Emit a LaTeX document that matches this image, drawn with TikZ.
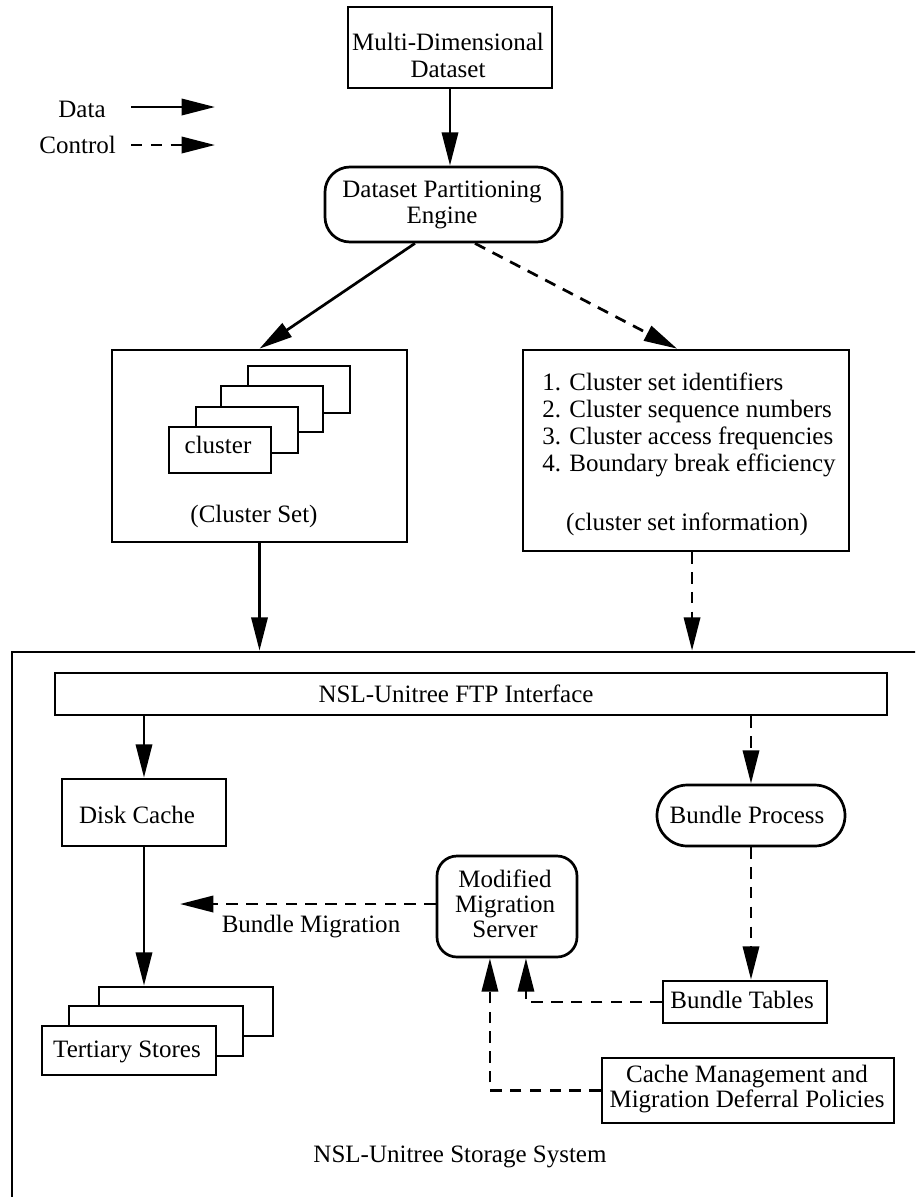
\documentclass[tikz,border=0pt]{standalone}
\usepackage{fontspec}
\setmainfont{Liberation Serif}
\usetikzlibrary{arrows.meta,fit,calc}
\begin{document}
\begin{tikzpicture}[x=0.48pt,y=-0.48pt,
  every node/.style={font=\fontsize{12}{13}\selectfont},
  box/.style={draw, line width=1.3pt, inner sep=0pt, fill=white},
  txt/.style={inner sep=0pt, anchor=base},
  data/.style={line width=1.3pt, -{Triangle[length=16pt,width=7.8pt]}},
  ctrl/.style={data, dash pattern=on 5.5pt off 4pt}]
\path[use as bounding box, clip] (0,0) rectangle (915,1197);

% legend
\node[txt, anchor=base west] (ldata) at (58,117) {Data};
\node[txt, anchor=base west] (lctrl) at (39,153) {Control};
\coordinate (lda) at (131,107); \coordinate (ldb) at (215,107);
\coordinate (lca) at (131,145); \coordinate (lcb) at (215,145);
\draw[data] (lda) -- (ldb);
\draw[ctrl] (lca) -- (lcb);

% top
\node[box, fit={(348,7)(552,88)}] (mdd) {};
\node[txt] (mddt) at (448,50) {\begin{tabular}[t]{@{}c@{}}Multi-Dimensional\\Dataset\end{tabular}};
\node[box, rounded corners=12pt, fit={(325,167)(562,242)}] (eng) {};
\node[txt, font=\fontsize{12}{12.5}\selectfont] (engt) at (442,197) {\begin{tabular}[t]{@{}c@{}}Dataset Partitioning\\Engine\end{tabular}};

% cluster set
\node[box, fit={(112,350)(407,542)}] (cs) {};
\node[box, fit={(248,366)(350,413)}] (cl4) {};
\node[box, fit={(221,386)(323,432)}] (cl3) {};
\node[box, fit={(196,407)(298,453)}] (cl2) {};
\node[box, fit={(169,427)(271,473)}] (cl1) {};
\node[txt] (cl1t) at (218,453) {cluster};
\node[txt] (cst) at (254,522) {(Cluster Set)};

% info
\node[box, fit={(523,350)(849,551)}] (info) {};
\node[txt, anchor=base west, font=\fontsize{12}{13.1}\selectfont] (infot) at (542,390) {\begin{tabular}[t]{@{}l@{}}1. Cluster set identifiers\\2. Cluster sequence numbers\\3. Cluster access frequencies\\4. Boundary break efficiency\end{tabular}};
\node[txt] (infoc) at (687,530) {(cluster set information)};

% storage system
\node[box, fit={(12,652)(945,1230)}] (st) {};
\node[box, fit={(55,673)(887,715)}] (ftp) {};
\node[txt] (ftpt) at (456,702) {NSL-Unitree FTP Interface};
\node[box, fit={(62,779)(226,846)}] (dc) {};
\node[txt] (dct) at (137,823) {Disk Cache};
\node[box, fit={(99,987)(273,1036)}] (ts3) {};
\node[box, fit={(69,1006)(243,1056)}] (ts2) {};
\node[box, fit={(42,1026)(216,1075)}] (ts1) {};
\node[txt] (tst) at (127,1057) {Tertiary Stores};
\node[box, rounded corners=9.6pt, fit={(437,856)(577,957)}] (srv) {};
\node[txt, font=\fontsize{12}{12.2}\selectfont] (srvt) at (505,887) {\begin{tabular}[t]{@{}c@{}}Modified\\Migration\\Server\end{tabular}};
\node[box, rounded corners=14.6pt, fit={(657,785)(845,846)}] (bp) {};
\node[txt] (bpt) at (747,823) {Bundle Process};
\node[box, fit={(663,981)(827,1023)}] (bt) {};
\node[txt] (btt) at (742,1008) {Bundle Tables};
\node[box, fit={(602,1058)(894,1123)}] (cm) {};
\node[txt, font=\fontsize{12}{12}\selectfont] (cmt) at (747,1082) {\begin{tabular}[t]{@{}c@{}}Cache Management and\\Migration Deferral Policies\end{tabular}};
\node[txt] (sst) at (460,1162) {NSL-Unitree Storage System};
\node[txt] (bmt) at (311,932) {Bundle Migration};
\coordinate (bmend) at (180,904);

% connectors
\draw[data] (mdd.south) -- (mdd.south |- eng.north);
\draw[data] ([xshift=-13.7pt]eng.south) -- (cs.north);
\draw[ctrl] ([xshift=15.1pt]eng.south) -- ([xshift=-4.3pt]info.north);
\draw[data] (cs.south) -- (cs.south |- st.north);
\coordinate (i1) at ([xshift=2.9pt]info.south);
\draw[ctrl] (i1) -- (i1 |- st.north);
\draw[data] (ftp.south -| dc.north) -- (dc.north);
\draw[ctrl] (ftp.south -| bp.north) -- (bp.north);
\draw[data] (dc.south) -- (dc.south |- ts3.north);
\draw[ctrl] (bp.south) -- (bp.south |- bt.north);
\draw[ctrl] (srv.west |- bmend) -- (bmend);
\draw[ctrl] (bt.west) -| ([xshift=9.1pt]srv.south);
\draw[ctrl] (cm.west) -| ([xshift=-8.2pt]srv.south);
\end{tikzpicture}
\end{document}
